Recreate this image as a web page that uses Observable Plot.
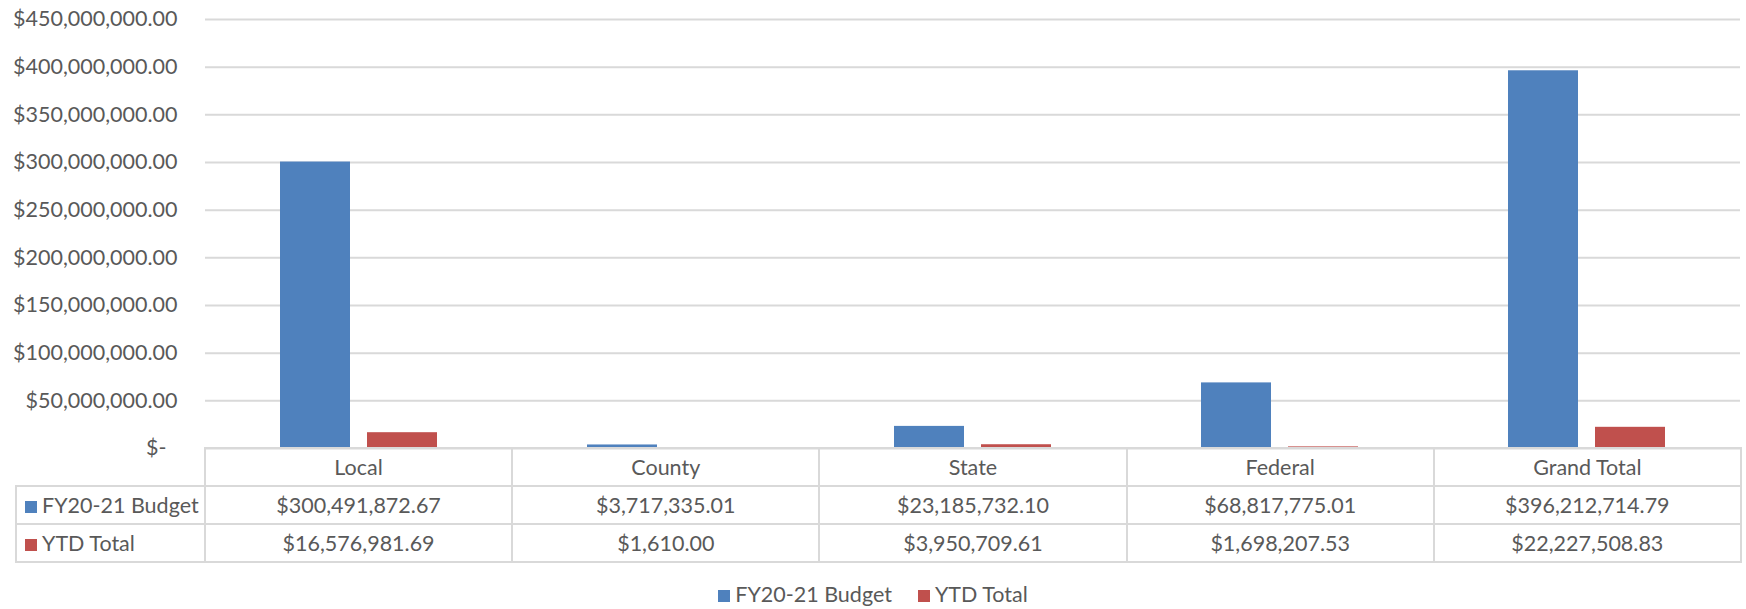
<!DOCTYPE html>
<html>
<head>
<meta charset="utf-8">
<script src="https://cdn.jsdelivr.net/npm/d3@7"></script>
<script src="https://cdn.jsdelivr.net/npm/@observablehq/plot@0.6"></script>
<style>
  html, body { margin: 0; padding: 0; background: #fff; }
  #wrap { position: relative; width: 1746px; height: 609px; overflow: hidden; font-family: Lato, "Noto Sans", sans-serif; color: #595959; }
  #wrap svg { position: absolute; left: 0; top: 0; }
  table.dt { position: absolute; border-collapse: collapse; table-layout: fixed; font-size: 21.5px; color: #595959; }
  table.dt td { border: 2px solid #d9d9d9; padding: 0; text-align: center; white-space: nowrap; height: 36px; line-height: 36px; }
  table.dt td.corner { border-top: none; border-left: none; }
  table.dt td.rowhead { text-align: left; padding-left: 8px; }
  .sw { display: inline-block; width: 12px; height: 12px; margin-right: 5px; vertical-align: 0px; }
  #legend { position: absolute; left: 0; top: 582px; width: 1746px; text-align: center; font-size: 21.5px; line-height: 24px; color: #595959; }
  #legend span.item { margin: 0 13px; }
</style>
</head>
<body>
<div id="wrap"></div>
<script>
const categories = ["Local", "County", "State", "Federal", "Grand Total"];
const series = ["FY20-21 Budget", "YTD Total"];
const budget = [300491872.67, 3717335.01, 23185732.10, 68817775.01, 396212714.79];
const ytd = [16576981.69, 1610.00, 3950709.61, 1698207.53, 22227508.83];
const yTicks = [0, 50e6, 100e6, 150e6, 200e6, 250e6, 300e6, 350e6, 400e6, 450e6];
const colors = ["#4F81BD", "#C0504D"];

const seriesValues = [budget, ytd];
const rows = categories.flatMap((c, i) => series.map((s, j) => ({category: c, series: s, value: seriesValues[j][i]})));

const money = d3.format(",.2f");
const fmtTick = d => d === 0 ? "$-\u00a0\u00a0" : "$" + money(d);
const fmtCell = d => "$" + money(d);

const chart = Plot.plot({
  width: 1746,
  height: 609,
  marginLeft: 204,
  marginRight: 6,
  marginTop: 19,
  marginBottom: 161,
  style: {fontFamily: "Lato, 'Noto Sans', sans-serif", fontSize: "21.5px", color: "#595959"},
  fx: {domain: categories, padding: 0, axis: null, label: null},
  x: {domain: series, paddingInner: 0.2, paddingOuter: 0.85, axis: null},
  y: {domain: [0, 450e6], ticks: yTicks, tickFormat: fmtTick, tickSize: 0, tickPadding: 28, label: null},
  color: {domain: series, range: colors},
  marks: [
    Plot.ruleY(yTicks, {stroke: "#d9d9d9", strokeWidth: 2}),
    Plot.barY(rows, {fx: "category", x: "series", y: "value", fill: "series"})
  ]
});

const wrap = document.getElementById("wrap");
wrap.appendChild(chart);

// Data table aligned with the fx scale
const fxs = chart.scale("fx");
const band = d3.scaleBand(fxs && fxs.domain ? fxs.domain : categories, fxs && fxs.range ? fxs.range : [204, 1740]).padding(0);
const left0 = 15;
const x0 = band(categories[0]);
const bw = band.bandwidth();

const table = document.createElement("table");
table.className = "dt";
table.style.left = left0 + "px";
table.style.top = (448 - 1) + "px";
const colgroup = document.createElement("colgroup");
const c0 = document.createElement("col"); c0.style.width = (x0 - left0) + "px"; colgroup.appendChild(c0);
categories.forEach(() => { const c = document.createElement("col"); c.style.width = bw + "px"; colgroup.appendChild(c); });
table.appendChild(colgroup);
table.style.width = (x0 - left0 + bw * categories.length) + "px";

const hr = document.createElement("tr");
const corner = document.createElement("td"); corner.className = "corner"; hr.appendChild(corner);
categories.forEach(c => { const td = document.createElement("td"); td.textContent = c; hr.appendChild(td); });
table.appendChild(hr);

const colorScale = chart.scale("color");
series.forEach((s, j) => {
  const tr = document.createElement("tr");
  const th = document.createElement("td"); th.className = "rowhead";
  const sw = document.createElement("span"); sw.className = "sw"; sw.style.background = colorScale.range[j];
  th.appendChild(sw); th.appendChild(document.createTextNode(s));
  tr.appendChild(th);
  seriesValues[j].forEach(v => { const td = document.createElement("td"); td.textContent = fmtCell(v); tr.appendChild(td); });
  table.appendChild(tr);
});
wrap.appendChild(table);

// Legend
const legend = document.createElement("div");
legend.id = "legend";
series.forEach((s, j) => {
  const item = document.createElement("span"); item.className = "item";
  const sw = document.createElement("span"); sw.className = "sw"; sw.style.background = colorScale.range[j];
  item.appendChild(sw); item.appendChild(document.createTextNode(s));
  legend.appendChild(item);
});
wrap.appendChild(legend);
</script>
</body>
</html>
